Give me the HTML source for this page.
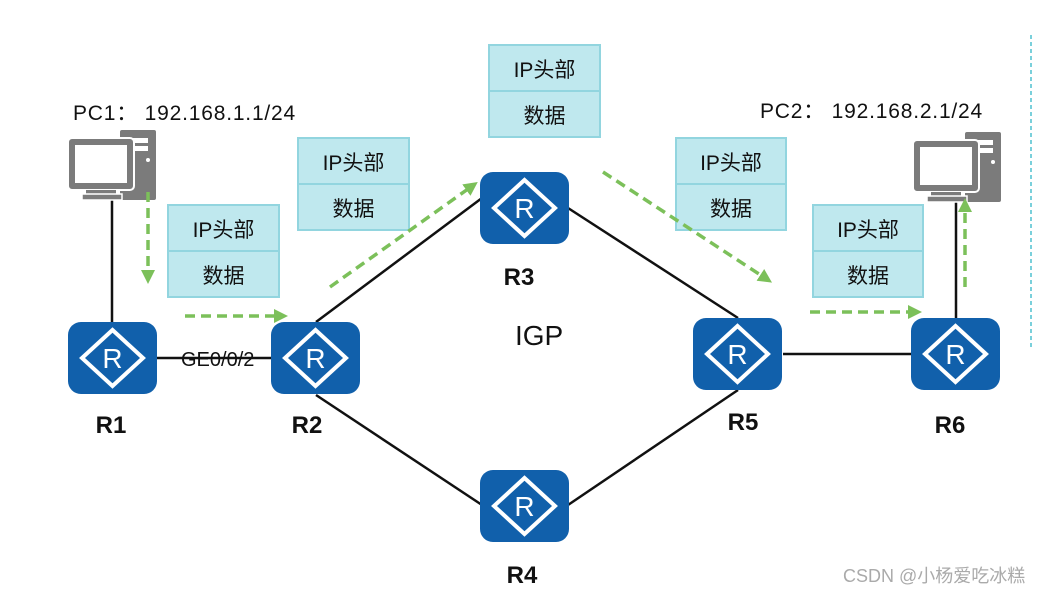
<!DOCTYPE html>
<html><head><meta charset="utf-8"><style>
body{margin:0;background:#fff;width:1037px;height:593px;overflow:hidden;font-family:"Liberation Sans","Noto Sans CJK SC",sans-serif}
</style></head><body>
<svg width="1037" height="593" xmlns="http://www.w3.org/2000/svg" font-family="Liberation Sans, Noto Sans CJK SC, sans-serif">
<defs>
<g id="rt">
<rect x="0" y="0" width="89" height="72" rx="13" fill="#1160ab"/>
<polygon points="44.5,8 75,36 44.5,64 14,36" fill="none" stroke="#fff" stroke-width="4"/>
<text x="44.5" y="46" font-size="28" fill="#fff" text-anchor="middle">R</text>
</g>
<g id="pc">
<rect x="54" y="0" width="36" height="70" rx="2" fill="#7b7b7b"/>
<rect x="62" y="8" width="20" height="5" fill="#fff"/>
<rect x="62" y="16" width="20" height="5" fill="#fff"/>
<circle cx="82" cy="30" r="2" fill="#fff"/>
<rect x="2" y="8" width="66" height="52" rx="4" fill="#7b7b7b" stroke="#fff" stroke-width="2"/>
<rect x="9" y="15" width="52" height="38" fill="#fff"/>
<rect x="20" y="60" width="30" height="5" fill="#7b7b7b"/>
<rect x="16" y="64" width="40" height="6" fill="#7b7b7b" stroke="#fff" stroke-width="1.5"/>
</g>
<marker id="ah" markerWidth="14" markerHeight="14" refX="2" refY="7" orient="auto" markerUnits="userSpaceOnUse"><path d="M0,0 L14,7 L0,14z" fill="#7cc05a"/></marker>
</defs>
<g stroke="#111" stroke-width="2.5" fill="none">
<line x1="112" y1="200" x2="112" y2="322"/>
<line x1="157" y1="358" x2="271" y2="358"/>
<line x1="316" y1="322" x2="482" y2="198"/>
<line x1="568" y1="208" x2="738" y2="318"/>
<line x1="316" y1="395" x2="482" y2="505"/>
<line x1="568" y1="505" x2="738" y2="390"/>
<line x1="783" y1="354" x2="911" y2="354"/>
<line x1="956" y1="200" x2="956" y2="318"/>
</g>
<use href="#rt" x="68" y="322"/>
<use href="#rt" x="271" y="322"/>
<use href="#rt" x="480" y="172"/>
<use href="#rt" x="480" y="470"/>
<use href="#rt" x="693" y="318"/>
<use href="#rt" x="911" y="318"/>
<use href="#pc" x="66" y="130"/>
<use href="#pc" x="911" y="132"/>
<text x="181" y="366" font-size="20" fill="#111">GE0/0/2</text>
<g font-size="24" font-weight="bold" fill="#111" text-anchor="middle">
<text x="111" y="433">R1</text><text x="307" y="433">R2</text><text x="519" y="285">R3</text>
<text x="522" y="583">R4</text><text x="743" y="430">R5</text><text x="950" y="433">R6</text>
</g>
<text x="515" y="345" font-size="28" fill="#111">IGP</text>
<text x="73" y="120" font-size="21" fill="#111" letter-spacing="0.8">PC1： 192.168.1.1/24</text>
<text x="760" y="118" font-size="21" fill="#111" letter-spacing="0.8">PC2： 192.168.2.1/24</text>
<g font-size="21" fill="#111" text-anchor="middle">
<g transform="translate(489,45)"><rect width="111" height="92" fill="#bfe8ee" stroke="#92d5df" stroke-width="2"/><line x1="0" y1="46" x2="111" y2="46" stroke="#92d5df" stroke-width="2"/><text x="55.5" y="32">IP头部</text><text x="55.5" y="78">数据</text></g>
<g transform="translate(298,138)"><rect width="111" height="92" fill="#bfe8ee" stroke="#92d5df" stroke-width="2"/><line x1="0" y1="46" x2="111" y2="46" stroke="#92d5df" stroke-width="2"/><text x="55.5" y="32">IP头部</text><text x="55.5" y="78">数据</text></g>
<g transform="translate(168,205)"><rect width="111" height="92" fill="#bfe8ee" stroke="#92d5df" stroke-width="2"/><line x1="0" y1="46" x2="111" y2="46" stroke="#92d5df" stroke-width="2"/><text x="55.5" y="32">IP头部</text><text x="55.5" y="78">数据</text></g>
<g transform="translate(676,138)"><rect width="110" height="92" fill="#bfe8ee" stroke="#92d5df" stroke-width="2"/><line x1="0" y1="46" x2="110" y2="46" stroke="#92d5df" stroke-width="2"/><text x="55" y="32">IP头部</text><text x="55" y="78">数据</text></g>
<g transform="translate(813,205)"><rect width="110" height="92" fill="#bfe8ee" stroke="#92d5df" stroke-width="2"/><line x1="0" y1="46" x2="110" y2="46" stroke="#92d5df" stroke-width="2"/><text x="55" y="32">IP头部</text><text x="55" y="78">数据</text></g>
</g>
<g stroke="#7cc05a" stroke-width="3.5" stroke-dasharray="10,6" fill="none" marker-end="url(#ah)">
<line x1="148" y1="192" x2="148" y2="272"/>
<line x1="185" y1="316" x2="276" y2="316"/>
<line x1="330" y1="287" x2="468" y2="189"/>
<line x1="603" y1="172" x2="762" y2="276"/>
<line x1="810" y1="312" x2="910" y2="312"/>
<line x1="965" y1="287" x2="965" y2="210"/>
</g>
<line x1="1031" y1="35" x2="1031" y2="350" stroke="#4fc1cf" stroke-width="1.5" stroke-dasharray="4,3"/>
<text x="843" y="582" font-size="18" fill="#aaa">CSDN @小杨爱吃冰糕</text>
</svg>
</body></html>
